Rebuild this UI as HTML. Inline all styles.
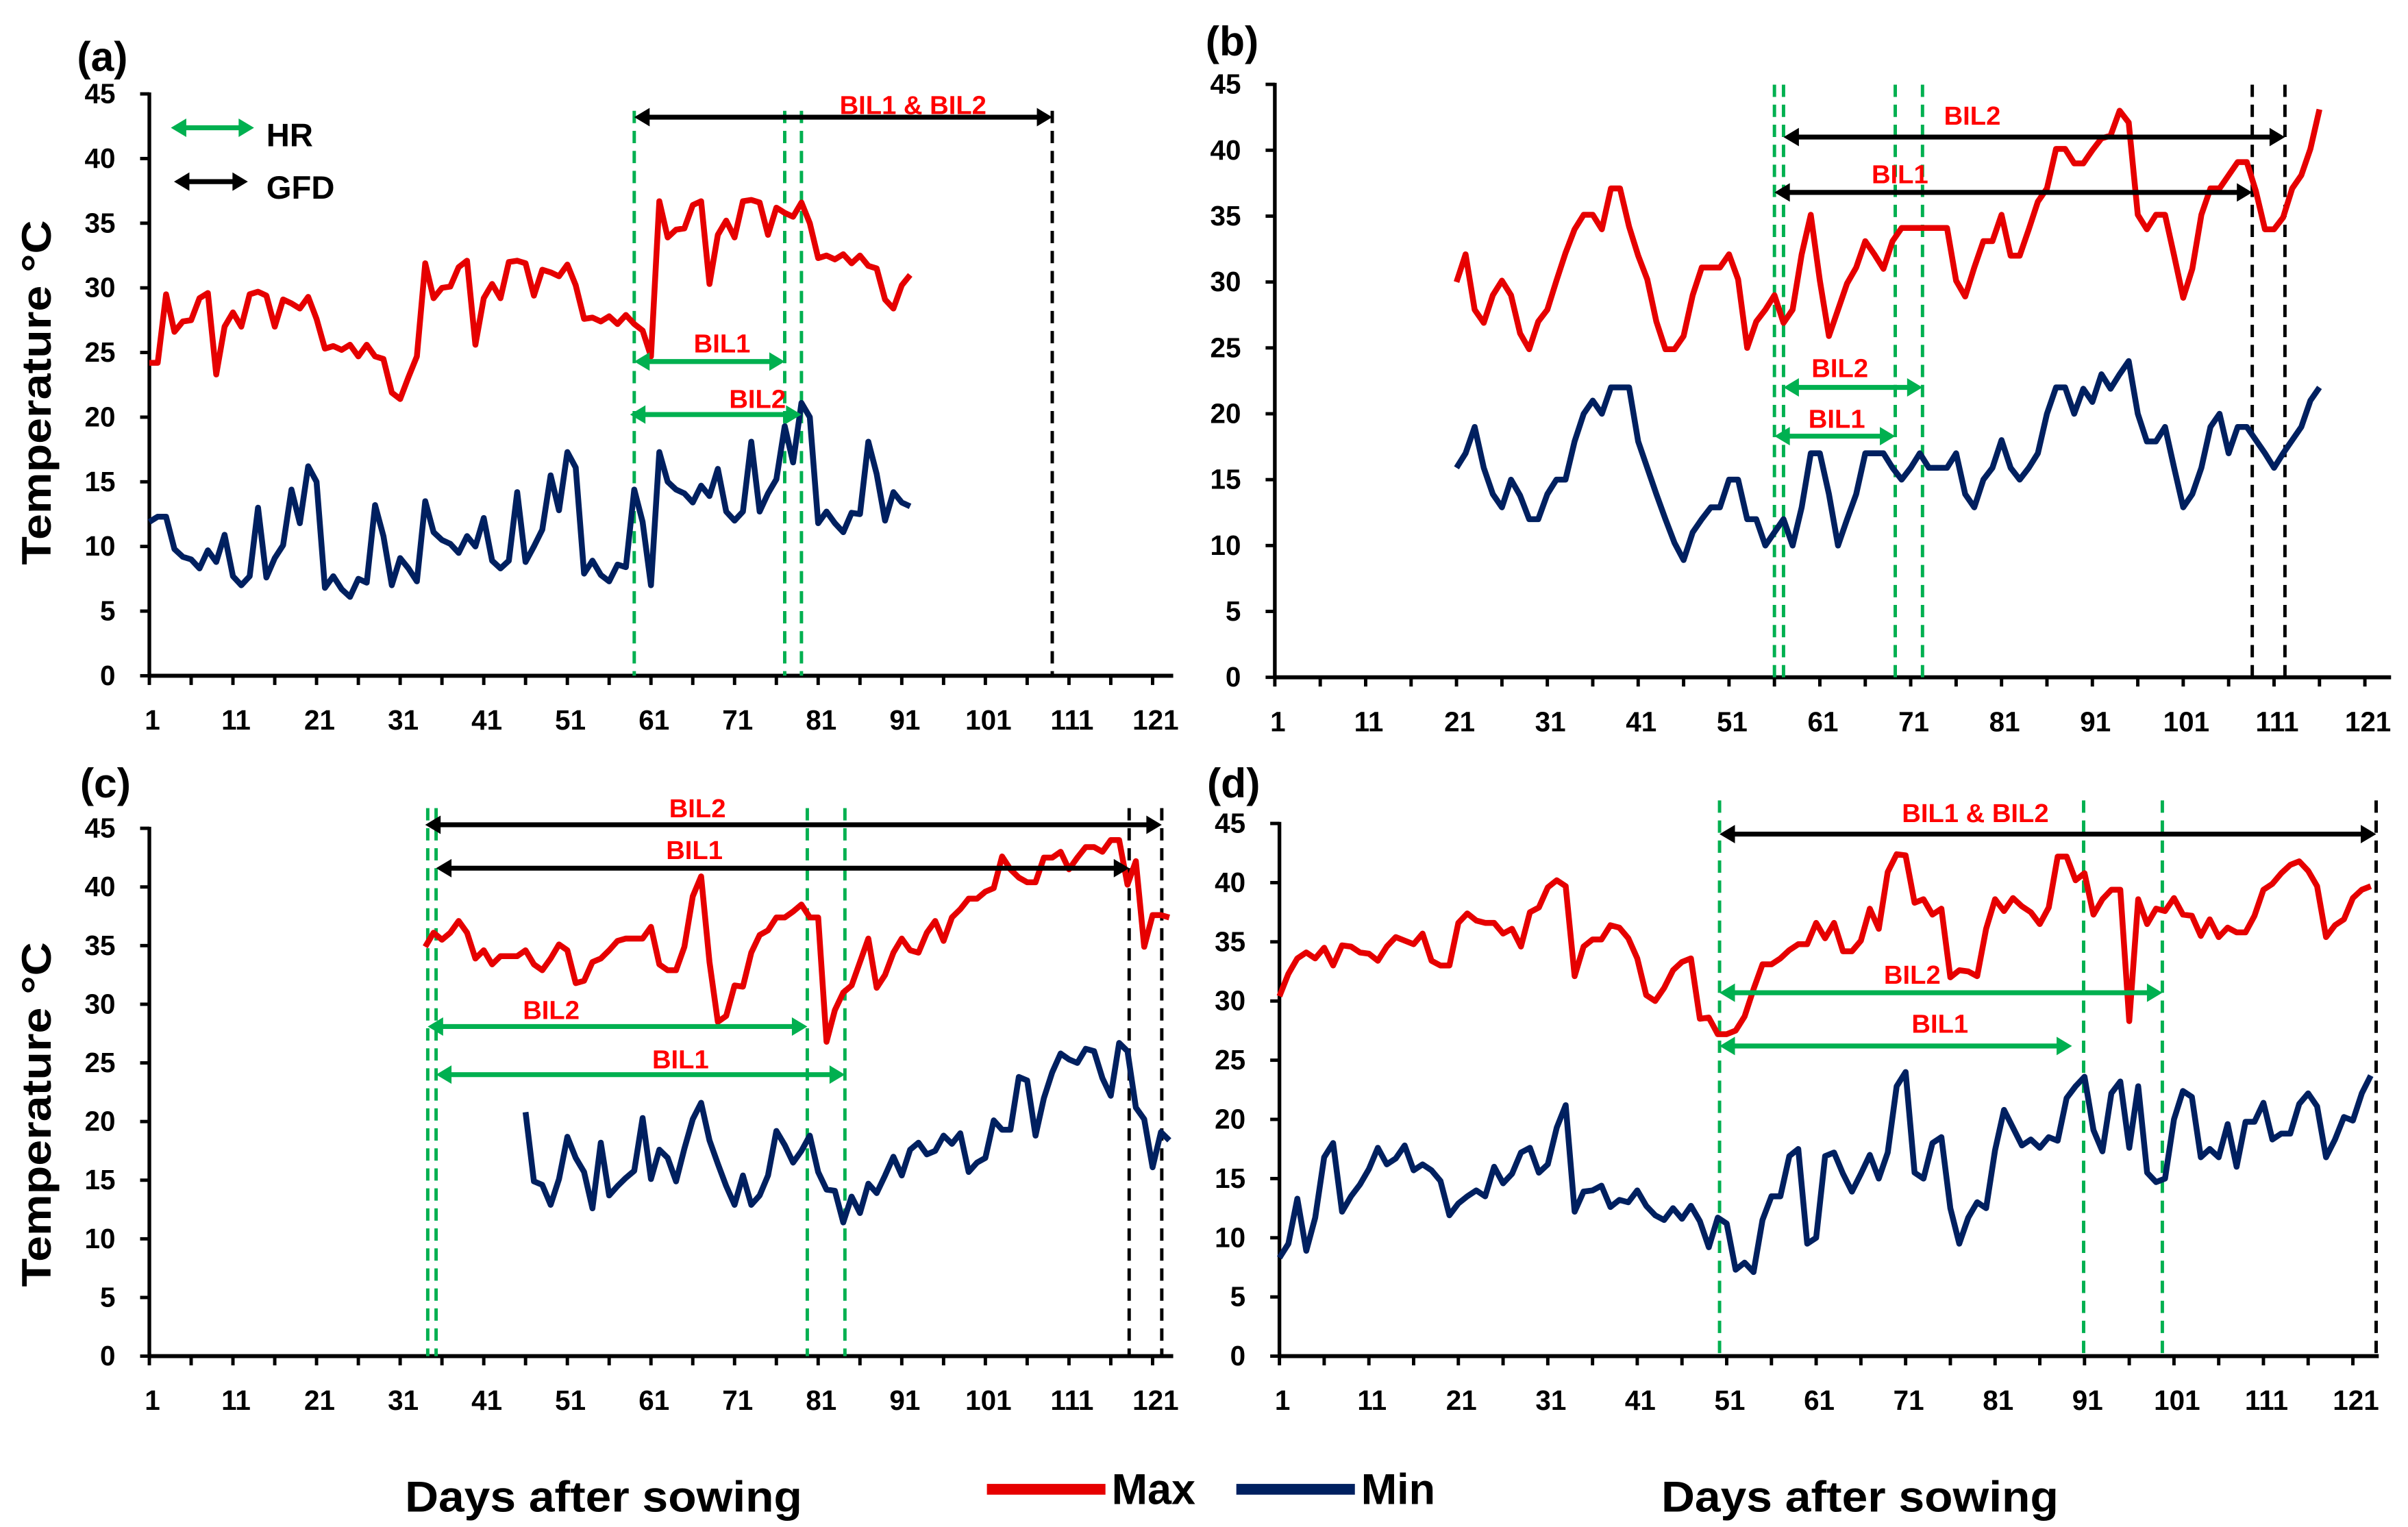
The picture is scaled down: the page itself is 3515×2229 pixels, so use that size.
<!DOCTYPE html>
<html><head><meta charset="utf-8">
<style>
html,body{margin:0;padding:0;background:#fff;}
svg{display:block;}
text{font-family:"Liberation Sans",sans-serif;font-weight:bold;}
</style></head>
<body>
<svg id="fig" xmlns="http://www.w3.org/2000/svg" width="3515" height="2229" viewBox="0 0 1564 992" preserveAspectRatio="none">
<rect width="1564" height="992" fill="#fff"/>
</svg>
<script>
// ---- data ----
const yTicks = [0,5,10,15,20,25,30,35,40,45];
const xTickLabels = [1,11,21,31,41,51,61,71,81,91,101,111,121];

const aMaxStart = 1;
const aMax = [24.2,24.2,29.5,26.6,27.4,27.5,29.2,29.6,23.3,27.0,28.1,27.0,29.5,29.7,29.4,27.0,29.1,28.8,28.4,29.3,27.6,25.3,25.5,25.2,25.6,24.7,25.6,24.7,24.5,21.9,21.4,23.1,24.7,31.9,29.2,30.0,30.1,31.6,32.1,25.6,29.2,30.3,29.2,32.0,32.1,31.9,29.4,31.4,31.2,30.9,31.8,30.2,27.6,27.7,27.4,27.8,27.2,27.9,27.2,26.7,24.7,36.7,33.9,34.5,34.6,36.4,36.7,30.3,34.1,35.2,33.9,36.7,36.8,36.6,34.1,36.2,35.8,35.5,36.6,35.0,32.3,32.5,32.2,32.6,31.9,32.5,31.7,31.5,29.1,28.4,30.2,31.0];
const aMinStart = 1;
const aMin = [11.9,12.3,12.3,9.8,9.2,9.0,8.3,9.7,8.8,10.9,7.7,7.0,7.7,13.0,7.6,9.1,10.1,14.4,11.8,16.2,15.0,6.8,7.7,6.7,6.1,7.5,7.2,13.2,10.8,7.0,9.1,8.3,7.3,13.5,11.1,10.5,10.2,9.5,10.8,10.0,12.2,8.9,8.3,8.9,14.2,8.8,10.0,11.3,15.5,12.8,17.3,16.1,7.9,8.9,7.8,7.3,8.6,8.4,14.4,11.9,7.0,17.3,15.0,14.4,14.1,13.4,14.7,13.9,16.0,12.7,12.0,12.7,18.1,12.7,14.1,15.2,19.3,16.5,21.1,20.0,11.8,12.7,11.8,11.1,12.6,12.5,18.1,15.6,12.0,14.2,13.4,13.1];

const bMaxStart = 21;
const bMax = [30,32.1,27.9,26.9,29,30.1,29,26.1,24.9,27,27.9,30.1,32.2,34,35.1,35.1,34,37.1,37.1,34.2,32,30.2,27,24.9,24.9,25.9,29,31.1,31.1,31.1,32.1,30.2,25,27,27.9,29,26.9,27.9,32.1,35.1,30.1,25.9,27.9,29.9,31.1,33.1,32.1,31,33.1,34.1,34.1,34.1,34.1,34.1,34.1,30.1,28.9,31.1,33.1,33.1,35.1,32,32,34,36.1,37.1,40.1,40.1,39,39,40,40.9,41.1,43,42.1,35.1,34,35.1,35.1,32,28.8,31,35.1,37.1,37.1,38.1,39.1,39.1,36.9,34,34,34.9,37.1,38.1,40.1,43.1];
const bMinStart = 21;
const bMin = [15.9,17,19,15.9,13.9,12.9,15,13.8,12,12,13.9,15,15,17.9,20,21,20,22,22,22,17.9,15.9,13.9,12,10.2,8.9,11,12,12.9,12.9,15,15,12,12,10,11,12,10,12.9,17,17,13.9,10,12,13.9,17,17,17,15.9,15,15.9,17,15.9,15.9,15.9,17,13.9,12.9,15,15.9,18,15.9,15,15.9,17,20,22,22,20,21.9,20.9,23,21.9,23,24,20,17.9,17.9,19,15.9,12.9,13.9,15.9,19,20,17,19,19,18,17,15.9,17,18,19,21,22];

const cMaxStart = 34;
const cMax = [34.9,36.1,35.5,36.1,37.1,36.1,33.9,34.6,33.4,34.1,34.1,34.1,34.6,33.4,32.9,33.9,35.1,34.6,31.8,32,33.6,33.9,34.6,35.4,35.6,35.6,35.6,36.6,33.4,32.9,32.9,34.9,39.2,40.9,33.6,28.5,29,31.6,31.5,34.4,35.9,36.3,37.4,37.4,37.9,38.5,37.4,37.4,26.8,29.5,31,31.6,33.6,35.6,31.4,32.5,34.4,35.6,34.6,34.4,36.1,37.1,35.4,37.4,38.1,39,39,39.6,39.9,42.6,41.5,40.8,40.4,40.4,42.5,42.5,43,41.5,42.5,43.4,43.4,43,44,44,40.2,42.2,34.9,37.6,37.6,37.4];
const cMinStart = 46;
const cMin = [20.8,14.9,14.6,12.9,15.1,18.7,16.9,15.7,12.6,18.2,13.7,14.5,15.2,15.8,20.3,15.1,17.6,16.9,14.9,17.7,20.2,21.6,18.4,16.4,14.5,12.9,15.4,12.9,13.7,15.4,19.2,18,16.5,17.5,18.8,15.7,14.2,14.1,11.4,13.6,12.2,14.7,13.9,15.4,17,15.4,17.6,18.2,17.2,17.5,18.8,18.1,19,15.7,16.5,16.9,20.1,19.3,19.3,23.8,23.5,18.8,22,24.2,25.8,25.3,25,26.2,26,23.7,22.2,26.7,26,21.2,20.2,16.1,19.1,18.4];

const dMaxStart = 1;
const dMax = [30.4,32.3,33.6,34.1,33.6,34.5,33,34.7,34.6,34.1,34,33.4,34.6,35.4,35.1,34.8,35.7,33.4,33,33,36.6,37.4,36.8,36.6,36.6,35.7,36.1,34.6,37.5,37.9,39.6,40.2,39.7,32.1,34.6,35.2,35.2,36.4,36.2,35.3,33.6,30.5,30,31.1,32.6,33.3,33.6,28.5,28.6,27.2,27.2,27.5,28.7,31,33.1,33.1,33.6,34.3,34.8,34.8,36.6,35.3,36.6,34.2,34.2,35.1,37.8,36.1,40.9,42.4,42.3,38.3,38.6,37.3,37.8,32,32.6,32.5,32.1,36.1,38.6,37.6,38.7,38,37.5,36.5,37.9,42.2,42.2,40.2,40.8,37.3,38.6,39.4,39.4,28.3,38.6,36.5,37.8,37.6,38.7,37.3,37.2,35.5,36.9,35.4,36.2,35.8,35.8,37.2,39.4,39.9,40.8,41.5,41.8,41,39.7,35.4,36.4,36.9,38.7,39.4,39.7];
const dMinStart = 1;
const dMin = [8.3,9.5,13.3,8.9,11.7,16.8,18,12.2,13.5,14.5,15.8,17.6,16.2,16.7,17.8,15.7,16.2,15.7,14.8,11.9,12.9,13.5,14,13.5,16,14.6,15.4,17.2,17.6,15.5,16.2,19.3,21.2,12.2,13.9,14,14.4,12.6,13.2,13,14,12.7,11.9,11.5,12.5,11.6,12.7,11.4,9.2,11.7,11.2,7.3,7.9,7.1,11.5,13.5,13.5,16.9,17.5,9.5,10,16.9,17.2,15.4,13.9,15.4,17,15,17.2,22.8,24,15.5,15,18,18.5,12.5,9.5,11.7,13,12.5,17.4,20.8,19.3,17.8,18.3,17.6,18.5,18.2,21.8,22.8,23.6,19.1,17.3,22.2,23.2,17.6,22.8,15.5,14.7,15,20,22.4,21.9,16.8,17.5,16.8,19.6,16,19.8,19.8,21.4,18.3,18.8,18.8,21.3,22.2,21.1,16.8,18.3,20.2,19.9,22.2,23.7];

const aGreenDays = [59,77,79];
const aBlackDays = [109];
const bGreenDays = [56,57,69.3,72.3];
const bBlackDays = [108.6,112.2];
const cGreenDays = [34.3,35.3,79.7,84.2];
const cBlackDays = [118.2,122.1];
const dGreenDays = [50.2,90.9,99.7];
const dBlackDays = [123.6];

// ---- helpers ----
const NS = "http://www.w3.org/2000/svg";
const svg = document.getElementById('fig');
function mk(tag, attrs, parent){
  const e = document.createElementNS(NS, tag);
  for (const k in attrs) e.setAttribute(k, attrs[k]);
  (parent||svg).appendChild(e);
  return e;
}
function txt(s, x, y, size, anchor, fill, parent){
  const t = mk('text', {x:x, y:y, 'font-size':size, 'text-anchor':anchor||'middle', fill:fill||'#000'}, parent);
  t.textContent = s;
  return t;
}
function panel(id, cfg){
  const g = mk('g', {});
  
  
  const X = d => cfg.x0 + (d - 1) * cfg.dx;
  const Y = v => cfg.y0 - v * cfg.dy;
  const ax = mk('g', {}, g);
  
  
  mk('line', {x1:cfg.x0, y1:Y(45)-1, x2:cfg.x0, y2:cfg.y0, stroke:'#000','stroke-width':2.4}, ax);
  mk('line', {x1:cfg.x0, y1:cfg.y0, x2:cfg.xEnd, y2:cfg.y0, stroke:'#000','stroke-width':2.6}, ax);
  yTicks.forEach(v => {
    mk('line', {x1:cfg.x0-6, y1:Y(v), x2:cfg.x0, y2:Y(v), stroke:'#000','stroke-width':2.2}, ax);
    const t = txt(String(v), cfg.x0-22, Y(v)+6, 18, 'end', '#000', ax);
    
    
  });
  for (let d = 1; d <= 121; d += 5) {
    mk('line', {x1:X(d), y1:cfg.y0, x2:X(d), y2:cfg.y0+6, stroke:'#000','stroke-width':2.2}, ax);
  }
  xTickLabels.forEach(d => {
    const t = txt(String(d), X(d)+2, cfg.y0+35, 18, 'middle', '#000', ax);
    
    
  });
  const pl = txt('(' + id + ')', cfg.labelX, cfg.labelY, 27, 'start', '#000', g);
  
  
  cfg.green.forEach(d => {
    const l = mk('line', {x1:X(d), y1:cfg.vTop, x2:X(d), y2:cfg.y0, stroke:'#00B050','stroke-width':2.2,'stroke-dasharray':'8,5'}, g);
    
    
  });
  cfg.black.forEach(d => {
    const l = mk('line', {x1:X(d), y1:cfg.vTop, x2:X(d), y2:cfg.y0, stroke:'#000','stroke-width':2.2,'stroke-dasharray':'8,5'}, g);
    
    
  });
  function series(arr, start, color, name){
    const pts = arr.map((v,i) => X(start+i).toFixed(2) + ',' + Y(v).toFixed(2)).join(' ');
    const p = mk('polyline', {points:pts, fill:'none', stroke:color, 'stroke-width':3.8, 'stroke-linejoin':'round'}, g);
    
    
  }
  series(cfg.max, cfg.maxStart, '#E60000', 'max-temp');
  series(cfg.min, cfg.minStart, '#002060', 'min-temp');
  cfg.arrows.forEach(a => {
    const col = a.c === 'g' ? '#00B050' : '#000';
    const x1 = X(a.d1), x2 = X(a.d2), y = Y(a.v);
    const ag = mk('g', {}, g);
    
    
    mk('line', {x1:x1+6, y1:y, x2:x2-6, y2:y, stroke:col, 'stroke-width':3.2}, ag);
    mk('polygon', {points:`${x1},${y} ${x1+10},${y-6} ${x1+10},${y+6}`, fill:col}, ag);
    mk('polygon', {points:`${x2},${y} ${x2-10},${y-6} ${x2-10},${y+6}`, fill:col}, ag);
    const t = txt(a.label, a.tx, a.ty, 17, 'middle', '#FF0000', ag);
    
    
  });
  if (cfg.ytitle) {
    const t = txt('Temperature °C', 0, 0, 27, 'middle', '#000', g);
    t.setAttribute('transform', `translate(${cfg.ytitleX},${cfg.ytitleY}) rotate(-90)`);
    t.setAttribute('textLength', '224');
    t.setAttribute('lengthAdjust', 'spacingAndGlyphs');
    
    
  }
}

panel('a', {x0:97, dx:5.43, y0:439, dy:8.4, xEnd:762, max:aMax, maxStart:aMaxStart, min:aMin, minStart:aMinStart,
  green:aGreenDays, black:aBlackDays, vTop:72, labelX:50, labelY:46, ytitle:true, ytitleX:33, ytitleY:255,
  arrows:[{c:'k',d1:59,d2:109,v:43.2,label:'BIL1 & BIL2',tx:593,ty:74},
          {c:'g',d1:59,d2:77,v:24.3,label:'BIL1',tx:469,ty:229},
          {c:'g',d1:58.5,d2:79,v:20.2,label:'BIL2',tx:492,ty:265}]});
panel('b', {x0:828, dx:5.9, y0:440, dy:8.56, xEnd:1553, max:bMax, maxStart:bMaxStart, min:bMin, minStart:bMinStart,
  green:bGreenDays, black:bBlackDays, vTop:55, labelX:783, labelY:36, ytitle:false,
  arrows:[{c:'k',d1:57,d2:112.2,v:41,label:'BIL2',tx:1281,ty:81},
          {c:'k',d1:56,d2:108.6,v:36.8,label:'BIL1',tx:1234,ty:119},
          {c:'g',d1:57,d2:72.3,v:22,label:'BIL2',tx:1195,ty:245},
          {c:'g',d1:56,d2:69.3,v:18.3,label:'BIL1',tx:1193,ty:278}]});
panel('c', {x0:97, dx:5.43, y0:881, dy:7.62, xEnd:762, max:cMax, maxStart:cMaxStart, min:cMin, minStart:cMinStart,
  green:cGreenDays, black:cBlackDays, vTop:525, labelX:52, labelY:518, ytitle:true, ytitleX:33, ytitleY:724,
  arrows:[{c:'k',d1:34,d2:122.1,v:45.3,label:'BIL2',tx:453,ty:531},
          {c:'k',d1:35.3,d2:118.2,v:41.6,label:'BIL1',tx:451,ty:558},
          {c:'g',d1:34.3,d2:79.7,v:28.1,label:'BIL2',tx:358,ty:662},
          {c:'g',d1:35.3,d2:84.2,v:24,label:'BIL1',tx:442,ty:694}]});
panel('d', {x0:831, dx:5.81, y0:881, dy:7.69, xEnd:1545, max:dMax, maxStart:dMaxStart, min:dMin, minStart:dMinStart,
  green:dGreenDays, black:dBlackDays, vTop:520, labelX:784, labelY:518, ytitle:false,
  arrows:[{c:'k',d1:50.2,d2:123.6,v:44.1,label:'BIL1 & BIL2',tx:1283,ty:534},
          {c:'g',d1:50.2,d2:99.7,v:30.7,label:'BIL2',tx:1242,ty:639},
          {c:'g',d1:50.2,d2:89.6,v:26.2,label:'BIL1',tx:1260,ty:671}]});

const lg = mk('g', {});


mk('line', {x1:116, y1:83, x2:160, y2:83, stroke:'#00B050','stroke-width':3.2}, lg);
mk('polygon', {points:'111,83 121,77 121,89', fill:'#00B050'}, lg);
mk('polygon', {points:'165,83 155,77 155,89', fill:'#00B050'}, lg);
mk('line', {x1:118, y1:118, x2:156, y2:118, stroke:'#000','stroke-width':3.2}, lg);
mk('polygon', {points:'113,118 123,112 123,124', fill:'#000'}, lg);
mk('polygon', {points:'161,118 151,112 151,124', fill:'#000'}, lg);
const hrT = txt('HR', 173, 95, 21, 'start', '#000', lg);


const gfdT = txt('GFD', 173, 129, 21, 'start', '#000', lg);



const xt1 = txt('Days after sowing', 392, 982, 28, 'middle', '#000');
xt1.setAttribute('textLength', '258');
xt1.setAttribute('lengthAdjust', 'spacingAndGlyphs');


const xt2 = txt('Days after sowing', 1208, 982, 28, 'middle', '#000');
xt2.setAttribute('textLength', '258');
xt2.setAttribute('lengthAdjust', 'spacingAndGlyphs');


const sl = mk('g', {});


const lmax = mk('rect', {x:641, y:964, width:77, height:7, fill:'#E60000'}, sl);


const tmax = txt('Max', 722, 977, 28, 'start', '#000', sl);


const lmin = mk('rect', {x:803, y:964, width:77, height:7, fill:'#002060'}, sl);


const tmin = txt('Min', 884, 977, 28, 'start', '#000', sl);


</script>
</body></html>
